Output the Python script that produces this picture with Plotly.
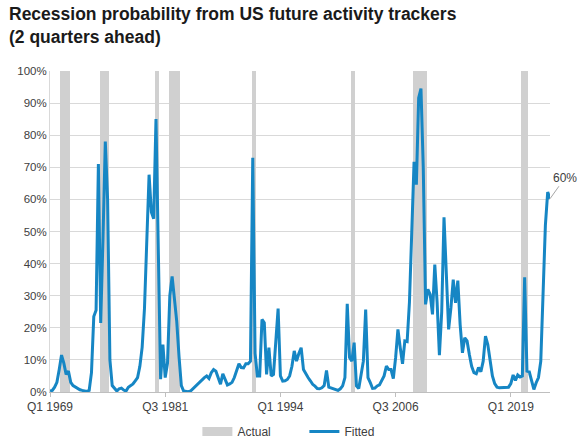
import plotly.graph_objects as go

# Quarterly categories: Q1 1969 ... Q2 2023
quarters = [f"Q{q} {y}" for y in range(1969, 2024) for q in (1, 2, 3, 4)][:218]

# Fitted recession probability (%)
fitted = [
    0.3, 0.5, 1.5, 3, 7, 11.5, 9, 5.5, 6.5, 3,
    2, 1.5, 1, 0.7, 0.5, 0.3, 0.2, 0.5, 6, 23.5,
    25.5, 71, 21.5, 48, 78, 60, 10, 2, 1.2, 0.3,
    1.0, 1.2, 0.6, 0.3, 1.5, 2, 2.5, 3.5, 4.5, 8,
    14, 26, 45, 67.7, 56, 54, 85, 45, 4, 14.8,
    4.5, 9, 30, 36, 28, 22, 11, 2, 0.3, 0.1,
    0.1, 0.3, 1, 2, 2.5, 3.4, 4, 4.5, 5, 4.2,
    6, 7, 6.5, 4.5, 2.4, 5.7, 4, 2.2, 2.5, 3,
    4.5, 6.5, 8.8, 7.6, 7.5, 8.8, 8.8, 9.6, 73, 12,
    5, 5, 22.6, 21.6, 5.5, 13.8, 5, 5.5, 15, 26,
    5, 3.4, 3.5, 3.9, 5, 8, 12.8, 9.6, 12, 13.8,
    7, 5.5, 4.5, 3.5, 2.4, 1.8, 1.1, 1.0, 1.3, 2,
    6.7, 1.5, 1.3, 1.1, 0.8, 0.5, 1, 1.9, 4.5, 27.5,
    10.7, 9.6, 15.4, 1.9, 1.1, 5, 9.6, 25.7, 4.5, 2.9,
    1.1, 1.2, 1.9, 2.2, 3.4, 5, 8.1, 7, 7, 4.2,
    10.7, 19.5, 13.8, 8.8, 15.9, 15.7, 28, 52, 71.7, 64.6,
    91.6, 94.5, 69.8, 27.3, 32, 30.4, 24.2, 39.7, 28, 11.5,
    25, 54.4, 38.7, 19.5, 26.2, 35, 27.8, 34.7, 21, 12.2,
    16.9, 15.9, 11.7, 8, 6, 5.7, 7.6, 6.3, 9.6, 17.4,
    14.8, 9.6, 5, 2.6, 1.5, 1.3, 1.3, 1.3, 1.4, 1.5,
    2.6, 5.3, 3.6, 5.3, 4.7, 5, 35.7, 6.5, 6.3, 3.4,
    0.8, 2.9, 4.5, 9.6, 30, 52, 62.3, 60.2,
]

# Quarters shaded as actual recessions
recession_quarters = [
    "Q2 1970", "Q3 1970", "Q4 1970", "Q1 1971",
    "Q3 1974", "Q4 1974", "Q1 1975", "Q2 1975",
    "Q3 1980", "Q4 1980",
    "Q1 1982", "Q2 1982", "Q3 1982", "Q4 1982", "Q1 1983",
    "Q1 1991", "Q2 1991",
    "Q4 2001", "Q1 2002",
    "Q3 2008", "Q4 2008", "Q1 2009", "Q2 2009", "Q3 2009", "Q4 2009",
    "Q2 2020", "Q3 2020", "Q4 2020",
]
recession_level = [100] * len(recession_quarters)

tick_labels = ["Q1 1969", "Q3 1981", "Q1 1994", "Q3 2006", "Q1 2019"]
y_ticks = [0, 10, 20, 30, 40, 50, 60, 70, 80, 90, 100]
y_tick_text = ["0%", "10%", "20%", "30%", "40%", "50%", "60%", "70%", "80%", "90%", "100%"]

title_text = "<b>Recession probability from US future activity trackers<br>(2 quarters ahead)</b>"
last_label = "60%"

BLUE = "#1686c4"
GRAY = "#d0d0d0"
TXT = "#404040"
FONT = "Liberation Sans, Arial, sans-serif"

fig = go.Figure()
fig.add_trace(go.Bar(
    x=recession_quarters, y=recession_level, name="Actual",
    marker=dict(color=GRAY, line=dict(width=0)), width=1,
    hoverinfo="skip", showlegend=False, legendgroup="actual",
))
# legend key for the recession shading (wide grey swatch as in the original)
fig.add_trace(go.Scatter(
    x=[None], y=[None], name="Actual", mode="lines",
    line=dict(color=GRAY, width=9), legendgroup="actual",
))
fig.add_trace(go.Scatter(
    x=quarters, y=fitted, name="Fitted", mode="lines",
    line=dict(color=BLUE, width=3),
))

fig.update_layout(
    width=584, height=445,
    margin=dict(l=49.5, r=34, t=71, b=52.7, autoexpand=False),
    paper_bgcolor="white", plot_bgcolor="white",
    font=dict(family=FONT, size=12, color=TXT),
    bargap=0, showlegend=True,
    legend=dict(orientation="h", xref="container", yref="container",
                x=0.338, xanchor="left", y=0.063, yanchor="top",
                font=dict(size=12, color=TXT),
                traceorder="normal", entrywidth=62, itemwidth=30),
    xaxis=dict(
        type="category", categoryorder="array", categoryarray=quarters,
        range=[0, 217], tickmode="array", tickvals=tick_labels, ticktext=tick_labels,
        showgrid=False, showline=True, linecolor="#bfbfbf", linewidth=1,
        ticks="outside", ticklen=4, tickcolor="#bfbfbf",
        tickfont=dict(size=12, color=TXT), tickangle=0,
    ),
    yaxis=dict(
        range=[0, 100], tickmode="array", tickvals=y_ticks, ticktext=y_tick_text,
        showgrid=True, gridcolor="#d9d9d9", gridwidth=1,
        showline=True, linecolor="#d9d9d9", zeroline=False,
        tickfont=dict(size=11.5, color=TXT), ticks="",
    ),
    annotations=[
        dict(text=title_text, xref="paper", yref="paper",
             x=-0.087, y=1.2148, xanchor="left", yanchor="top", align="left",
             showarrow=False, font=dict(size=17.5, color="#1a1a1a", family=FONT)),
        dict(text=last_label, x=quarters[-1], y=fitted[-1], xref="x", yref="y",
             ax=15, ay=-21, showarrow=True, arrowhead=0, arrowwidth=1,
             arrowcolor="#a6a6a6", font=dict(size=12, color=TXT)),
    ],
)

fig.write_html("out.html")
